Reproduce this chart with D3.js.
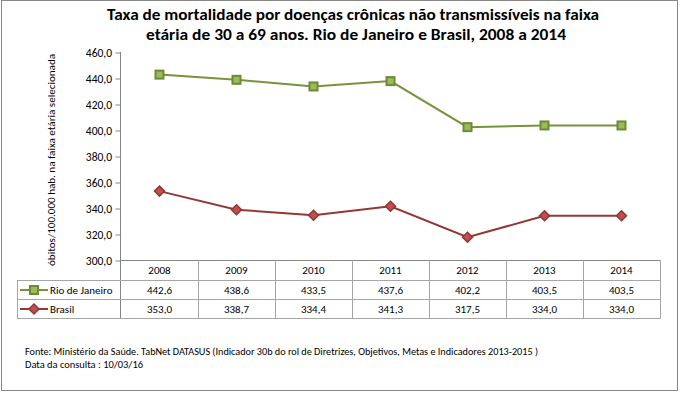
<!DOCTYPE html>
<html><head><meta charset="utf-8">
<script src="https://cdn.jsdelivr.net/npm/d3@7"></script>
<style>body{margin:0;background:#fff}svg{display:block}</style>
</head><body>
<svg id="c" width="680" height="394"></svg>
<script>
const years = ["2008","2009","2010","2011","2012","2013","2014"];
const rio = [442.6, 438.6, 433.5, 437.6, 402.2, 403.5, 403.5];
const brasil = [353.0, 338.7, 334.4, 341.3, 317.5, 334.0, 334.0];
const seriesNames = ["Rio de Janeiro", "Brasil"];
const yTicks = [300,320,340,360,380,400,420,440,460];
const titleLines = ["Taxa de mortalidade por doenças crônicas não transmissíveis na faixa",
                    "etária de 30 a  69 anos. Rio de Janeiro e Brasil, 2008 a 2014"];
const yLabel = "óbitos/100.000 hab. na faixa etária selecionada";
const notes = ["Fonte: Ministério da Saúde. TabNet DATASUS (Indicador 30b do rol de Diretrizes, Objetivos, Metas e Indicadores 2013-2015 )",
               "Data da consulta : 10/03/16"];

const font = "Carlito, 'Liberation Sans', sans-serif";
const svg = d3.select("#c");
svg.append("rect").attr("x",1.5).attr("y",0.5).attr("width",676).attr("height",390)
  .attr("fill","#fff").attr("stroke","#888");

// title
const tl = [[353,20,492],[356,40,420]];
titleLines.forEach((t,i)=>{
  svg.append("text").attr("x",tl[i][0]).attr("y",tl[i][1]).attr("text-anchor","middle")
    .attr("font-family",font).attr("font-weight","bold").attr("font-size",16)
    .attr("textLength",tl[i][2]).attr("lengthAdjust","spacingAndGlyphs").attr("fill","#000").text(t);
});

const x = d3.scaleBand().domain(years).range([121,660]);
const y = d3.scaleLinear().domain([300,460]).range([260,52]);

// y axis
const yAxis = d3.axisLeft(y).tickValues(yTicks).tickSize(5).tickFormat(d=>d3.format(".1f")(d).replace(".",","));
const ga = svg.append("g").attr("transform","translate(121,0)").call(yAxis);
ga.selectAll(".domain").remove();
ga.selectAll(".tick line").attr("stroke","#868686").attr("transform","translate(-0.5,0.5)");
ga.selectAll(".tick text").attr("font-family",font).attr("font-size",11.5).attr("fill","#000").attr("x",-9).attr("dy","0.35em");
svg.append("line").attr("x1",120.5).attr("x2",120.5).attr("y1",52).attr("y2",318).attr("stroke","#868686");

svg.append("text").attr("transform","translate(55,160) rotate(-90)").attr("text-anchor","middle")
  .attr("font-family",font).attr("font-size",10.5).attr("textLength",212).attr("lengthAdjust","spacingAndGlyphs")
  .text(yLabel);

// table
const tg = svg.append("g");
tg.append("line").attr("x1",121).attr("x2",660.5).attr("y1",260.5).attr("y2",260.5).attr("stroke","#868686");
[280,299,318].forEach(r=>tg.append("line").attr("x1",17).attr("x2",660.5).attr("y1",r+0.5).attr("y2",r+0.5).attr("stroke","#a6a6a6"));
tg.append("line").attr("x1",17.5).attr("x2",17.5).attr("y1",280).attr("y2",318.5).attr("stroke","#a6a6a6");
years.forEach(yr=>{
  tg.append("line").attr("x1",Math.round(x(yr)+x.bandwidth())+0.5).attr("x2",Math.round(x(yr)+x.bandwidth())+0.5)
    .attr("y1",260).attr("y2",318.5).attr("stroke","#a6a6a6");
  tg.append("text").attr("x",x(yr)+x.bandwidth()/2).attr("y",274).attr("text-anchor","middle")
    .attr("font-family",font).attr("font-size",11).text(yr);
});
const fmt = v=>d3.format(".1f")(v).replace(".",",");
[rio,brasil].forEach((arr,i)=>{
  arr.forEach((v,j)=>{
    tg.append("text").attr("x",x(years[j])+x.bandwidth()/2).attr("y",294+i*19).attr("text-anchor","middle")
      .attr("font-family",font).attr("font-size",11).text(fmt(v));
  });
});

const styles = [
  {line:"#77933C", fill:"#9BBB59", stroke:"#6f8a37", shape:"square"},
  {line:"#953735", fill:"#C0504D", stroke:"#8c3836", shape:"diamond"}
];
function marker(g, cx, cy, st){
  if(st.shape==="square"){
    g.append("rect").attr("x",cx-4).attr("y",cy-4).attr("width",8).attr("height",8)
      .attr("fill",st.fill).attr("stroke",st.stroke).attr("stroke-width",2);
  } else {
    g.append("path").attr("d",`M${cx},${cy-5}L${cx+5},${cy}L${cx},${cy+5}L${cx-5},${cy}Z`)
      .attr("fill",st.fill).attr("stroke",st.stroke).attr("stroke-width",1.5);
  }
}
// legend in table
seriesNames.forEach((n,i)=>{
  const cy = 290+i*19;
  tg.append("line").attr("x1",20).attr("x2",48).attr("y1",cy).attr("y2",cy).attr("stroke",styles[i].line).attr("stroke-width",2);
  marker(tg,34,cy,styles[i]);
  tg.append("text").attr("x",50).attr("y",cy+4).attr("font-family",font).attr("font-size",11).text(n);
});

// lines
const line = d3.line().x((d,i)=>x(years[i])+x.bandwidth()/2).y(d=>y(d));
[rio,brasil].forEach((arr,i)=>{
  const g = svg.append("g");
  g.append("path").attr("d",line(arr)).attr("fill","none").attr("stroke",styles[i].line).attr("stroke-width",2);
  arr.forEach((v,j)=>marker(g,x(years[j])+x.bandwidth()/2,y(v),styles[i]));
});

// notes
notes.forEach((t,i)=>{
  svg.append("text").attr("x",25).attr("y",355+i*13).attr("font-family",font).attr("font-size",9.5)
    .attr("textLength", i===0?513:118).attr("lengthAdjust","spacingAndGlyphs").text(t);
});
</script>
</body></html>
